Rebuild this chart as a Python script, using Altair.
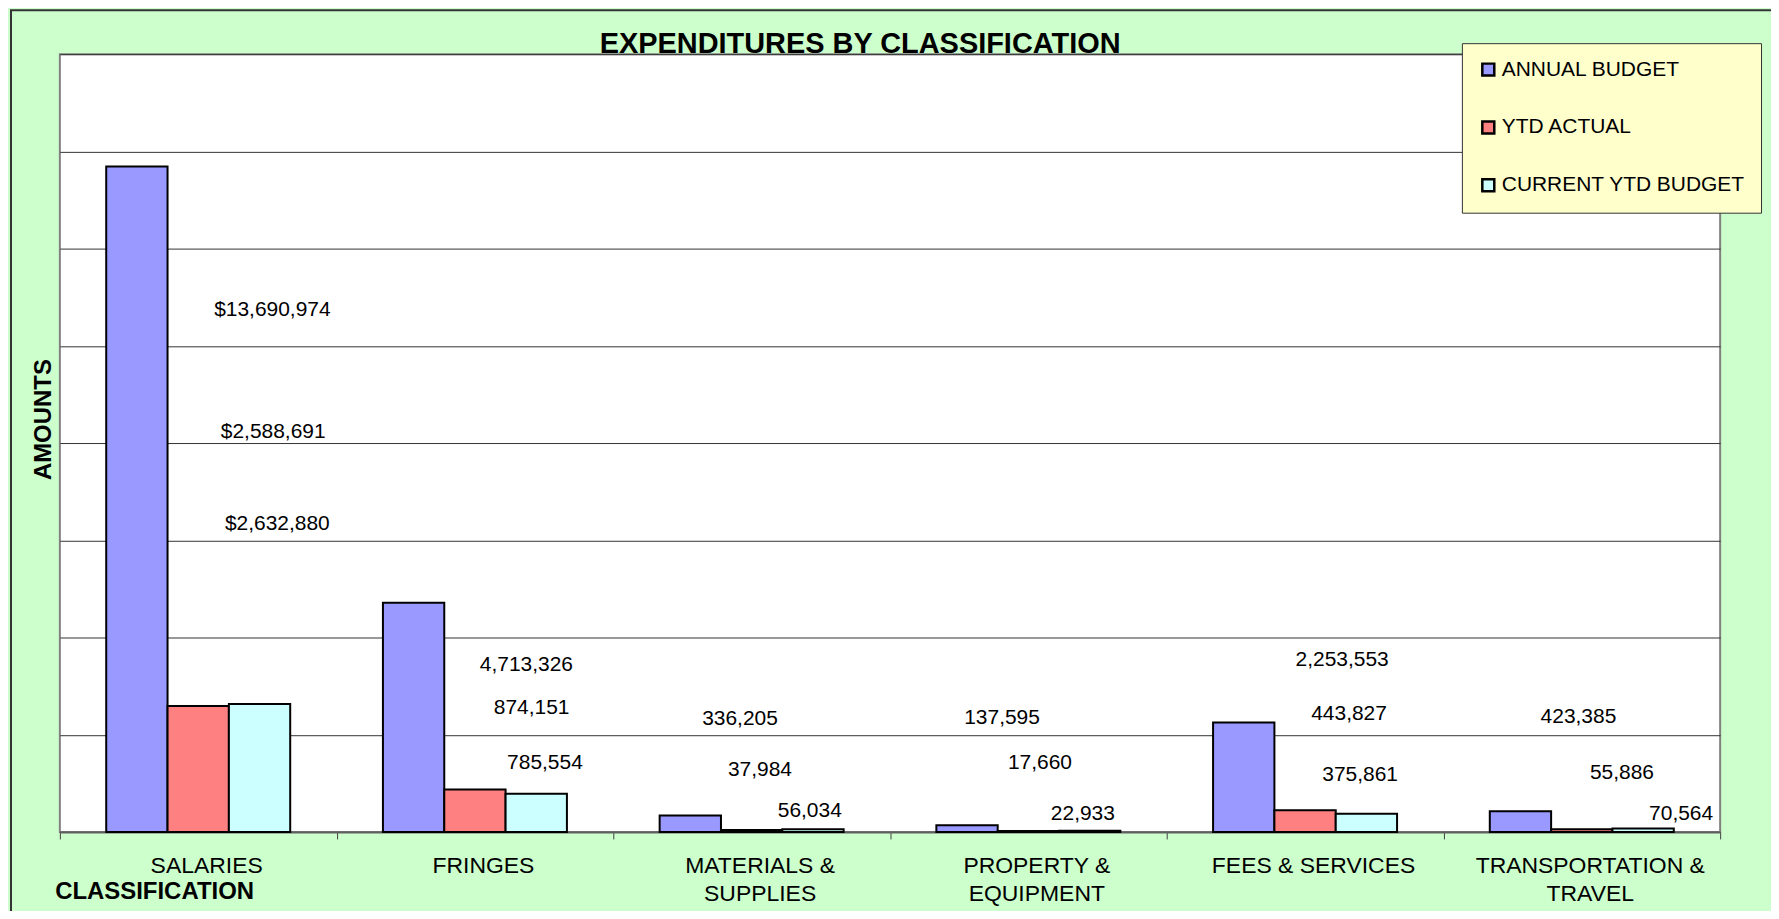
import altair as alt
import pandas as pd

# ---- data ----
categories = ["SALARIES", "FRINGES", "MATERIALS &\nSUPPLIES", "PROPERTY &\nEQUIPMENT",
              "FEES & SERVICES", "TRANSPORTATION &\nTRAVEL"]
series = ["ANNUAL BUDGET", "YTD ACTUAL", "CURRENT YTD BUDGET"]
annual_budget = [13690974, 4713326, 336205, 137595, 2253553, 423385]
ytd_actual = [2588691, 874151, 37984, 17660, 443827, 55886]
current_ytd_budget = [2632880, 785554, 56034, 22933, 375861, 70564]
colors = ["#9999FF", "#FF8080", "#CCFFFF"]
y_ticks = [0, 2000000, 4000000, 6000000, 8000000, 10000000, 12000000, 14000000, 16000000]

# data-label anchor points (category units on x, dollars on y), as placed in the reference
label_x = {
    "ANNUAL BUDGET": [0.768, 1.686, 2.458, 3.405, 4.634, 5.488],
    "YTD ACTUAL": [0.771, 1.705, 2.530, 3.542, 4.659, 5.645],
    "CURRENT YTD BUDGET": [0.786, 1.753, 2.710, 3.697, 4.699, 5.859],
}
label_y = {
    "ANNUAL BUDGET": [10730000, 3430000, 2330000, 2340000, 3530000, 2360000],
    "YTD ACTUAL": [8230000, 2550000, 1270000, 1415000, 2420000, 1210000],
    "CURRENT YTD BUDGET": [6330000, 1415000, 437000, 369000, 1169000, 369000],
}

values = {"ANNUAL BUDGET": annual_budget, "YTD ACTUAL": ytd_actual,
          "CURRENT YTD BUDGET": current_ytd_budget}

bar_rows, lab_rows = [], []
for s in series:
    for i, c in enumerate(categories):
        v = values[s][i]
        bar_rows.append({"category": c, "series": s, "value": v})
        txt = (f"${v:,}" if i == 0 else f"{v:,}")
        lab_rows.append({"series": s, "text": txt, "lx": label_x[s][i], "ly": label_y[s][i]})
bars_df = pd.DataFrame(bar_rows)
labs_df = pd.DataFrame(lab_rows)

FONT = "Liberation Sans"
W, H = 1665, 780

y_axis = alt.Axis(values=y_ticks, labels=False, ticks=False, domain=False, grid=True,
                  gridColor="#333333", gridWidth=1, title="AMOUNTS", titleAngle=270,
                  titleX=-16, titleY=366, titleAlign="center", titleBaseline="middle",
                  titleFontSize=24, titleFontWeight="bold", titleColor="black", titleFont=FONT)
y_scale = alt.Scale(domain=[0, 16000000], nice=False, zero=True)

bars = alt.Chart(bars_df).mark_bar(stroke="black", strokeWidth=2).encode(
    x=alt.X("category:N", sort=categories,
            scale=alt.Scale(paddingInner=0, paddingOuter=0),
            axis=alt.Axis(title="CLASSIFICATION", titleX=94.5, titleY=60, titleAlign="center",
                          titleBaseline="middle", titleFontSize=24, titleFontWeight="bold",
                          titleColor="black", titleFont=FONT,
                          labelAngle=0, labelFontSize=23, labelColor="black", labelFont=FONT,
                          labelBaseline="alphabetic", labelPadding=34, labelLineHeight=28,
                          labelLimit=400, labelOverlap=False, labelOffset=8,
                          labelExpr="split(datum.label, '\\n')",
                          tickBand="extent", tickSize=7, tickColor="#404040", tickWidth=1,
                          domainColor="#606060", domainWidth=2, grid=False)),
    xOffset=alt.XOffset("series:N", sort=series,
                        scale=alt.Scale(paddingInner=0, paddingOuter=0.756)),
    y=alt.Y("value:Q", scale=y_scale, axis=y_axis),
    color=alt.Color("series:N", sort=series,
                    scale=alt.Scale(domain=series, range=colors),
                    legend=alt.Legend(orient="none", legendX=1406, legendY=-11, title=None,
                                      symbolType="square", symbolSize=144,
                                      symbolStrokeColor="black", symbolStrokeWidth=2.5,
                                      symbolOpacity=1,
                                      labelFontSize=21, labelColor="black", labelFont=FONT,
                                      labelOffset=3, labelLimit=400,
                                      padding=16, rowPadding=35,
                                      fillColor="#FFFFCC", strokeColor="#333333")),
)

texts = alt.Chart(labs_df).mark_text(fontSize=21, align="center", baseline="middle",
                                     color="black", font=FONT).encode(
    x=alt.X("lx:Q", scale=alt.Scale(domain=[0, 6], nice=False, zero=False), axis=None),
    y=alt.Y("ly:Q", scale=y_scale, axis=y_axis),
    text="text:N",
)

# thin dark frame around the whole (green) chart area, as in the reference
frame = alt.Chart(pd.DataFrame({"f": [0]})).mark_rect(
    fill=None, stroke="#333333", strokeWidth=2).encode(
    x=alt.value(-49), x2=alt.value(W + 80), y=alt.value(-44), y2=alt.value(H + 120))

chart = alt.layer(frame, bars, texts).resolve_scale(x="independent").properties(
    width=W, height=H,
    autosize=alt.AutoSizeParams(type="none"),
    padding={"left": 52, "top": 45, "right": 51, "bottom": 78},
    background="#CCFFCC",
    title=alt.Title("EXPENDITURES BY CLASSIFICATION", fontSize=29, fontWeight="bold",
                    font=FONT, color="black", anchor="middle", frame="group", dx=-30,
                    offset=-73, baseline="alphabetic"),
).configure(font=FONT).configure_view(fill="white", stroke="#808080", strokeWidth=2)

chart.save("out.html", embed_options={"renderer": "svg", "actions": False})
